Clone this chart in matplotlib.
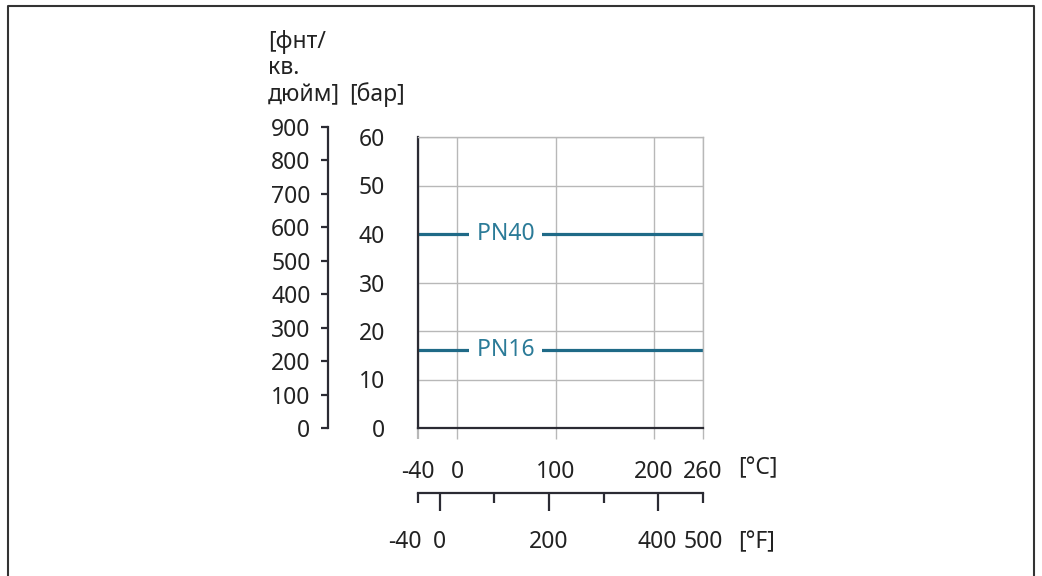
import matplotlib
matplotlib.use('Agg')
import matplotlib.pyplot as plt
import numpy as np
from matplotlib.lines import Line2D
from matplotlib.transforms import ScaledTranslation
from matplotlib.ticker import FixedLocator, FixedFormatter

# ---- data ----
temp_c = [-40, 260]
pn40_bar = [40, 40]
pn16_bar = [16, 16]
series_names = ['PN40', 'PN16']
c_ticks = [-40, 0, 100, 200, 260]
c_labels = ['-40', '0', '100', '200', '260']
bar_ticks = [0, 10, 20, 30, 40, 50, 60]
psi_ticks = [0, 100, 200, 300, 400, 500, 600, 700, 800, 900]
f_major = [0, 200, 400]
f_major_labels = ['0', '200', '400']
f_minor = [-40, 100, 300, 500]
f_minor_labels = ['-40', '', '', '500']
PSI_PER_BAR = 14.5038

# drawing quirk of the original: the 200..260 °C stretch is drawn compressed
C_BREAK = [-40, 200, 260]
C_DRAWN = [-40, 200, 249.8]
F_BREAK = [c * 1.8 + 32 for c in C_BREAK]
F_DRAWN = [c * 1.8 + 32 for c in C_DRAWN]

plt.rcParams['font.family'] = ['Noto Sans', 'DejaVu Sans']
FS = 16.5
W, H = 1042, 576
fig = plt.figure(figsize=(W / 100, H / 100), dpi=100)


def fr(l, t, r, b):
    return [l / W, 1 - b / H, (r - l) / W, (b - t) / H]


def mk_scale(src, dst):
    fwd = lambda v: np.interp(v, src, dst, left=None, right=None)
    inv = lambda v: np.interp(v, dst, src)
    return fwd, inv


DARK = '#2b2b33'
GRID = '#b8b8b8'
LINE_C = '#1f6a87'
TEXT_C = '#2b7b98'
PX = 0.72  # points per pixel

# main axes
L, T, R, B = 418, 137, 703, 428
ax = fig.add_axes(fr(L, T, R, B))
ax.set_xscale('function', functions=mk_scale(C_BREAK, C_DRAWN))
ax.set_xlim(-40, 260)
ax.set_ylim(0, 60)
ax.set_xticks(c_ticks)
ax.set_xticklabels(c_labels, fontsize=FS, color='#222')
ax.xaxis.set_minor_locator(FixedLocator([]))
ax.set_yticks(bar_ticks)
ax.set_yticklabels([str(v) for v in bar_ticks], fontsize=FS, color='#222')
ax.grid(True, color=GRID, lw=1.0)
ax.set_axisbelow(True)
for s in ['top', 'right']:
    ax.spines[s].set_color(GRID)
    ax.spines[s].set_linewidth(1.0)
for s in ['left', 'bottom']:
    ax.spines[s].set_color(DARK)
    ax.spines[s].set_linewidth(1.6)
ax.tick_params(axis='x', direction='out', length=8 * PX * 1.39, width=1.0, color=GRID, pad=15)
ax.tick_params(axis='y', length=0, pad=33 * PX)
ax.xaxis.get_major_ticks()[0].tick1line.set_color(DARK)
ax.xaxis.get_major_ticks()[0].tick1line.set_markeredgewidth(1.6)
ax.yaxis.set_minor_locator(FixedLocator([0]))
ax.tick_params(axis='y', which='minor', length=9 * PX, width=1.6, color=DARK)

ax.plot(temp_c, pn40_bar, color=LINE_C, lw=2.3, solid_capstyle='butt', zorder=2)
ax.plot(temp_c, pn16_bar, color=LINE_C, lw=2.3, solid_capstyle='butt', zorder=2)
label_x = 49
for name, vals in zip(series_names, [pn40_bar, pn16_bar]):
    ax.text(label_x, vals[0], ' ' + name + ' ', ha='center', va='center', fontsize=FS,
            color=TEXT_C, zorder=4,
            bbox=dict(fc='white', ec='none', boxstyle='square,pad=0.08'))

# psi axis
psi_top = B - (B - T) * (max(psi_ticks) / (bar_ticks[-1] * PSI_PER_BAR))
axp = fig.add_axes(fr(327.5, psi_top, 340, B))
axp.set_ylim(0, max(psi_ticks))
axp.set_yticks(psi_ticks)
axp.set_yticklabels([str(v) for v in psi_ticks], fontsize=FS, color='#222')
axp.set_xticks([])
axp.patch.set_visible(False)
for s in ['top', 'right', 'bottom']:
    axp.spines[s].set_visible(False)
axp.spines['left'].set_color(DARK)
axp.spines['left'].set_linewidth(1.6)
axp.tick_params(axis='y', direction='out', length=7 * PX, width=1.6, color=DARK, pad=10 * PX)

# Fahrenheit axis
axf = fig.add_axes(fr(L, 470, R, 493))
axf.set_xscale('function', functions=mk_scale(F_BREAK, F_DRAWN))
axf.set_xlim(-40, 500)
axf.set_yticks([])
axf.patch.set_visible(False)
for s in ['top', 'right', 'left']:
    axf.spines[s].set_visible(False)
axf.spines['bottom'].set_color(DARK)
axf.spines['bottom'].set_linewidth(1.6)
axf.xaxis.set_major_locator(FixedLocator(f_major))
axf.xaxis.set_major_formatter(FixedFormatter(f_major_labels))
axf.xaxis.set_minor_locator(FixedLocator(f_minor))
axf.xaxis.set_minor_formatter(FixedFormatter(f_minor_labels))
axf.tick_params(axis='x', which='major', direction='out', length=18 * PX, width=1.6,
                color=DARK, pad=19 * PX, labelsize=FS, labelcolor='#222')
axf.tick_params(axis='x', which='minor', direction='out', length=10 * PX, width=1.6,
                color=DARK, pad=27 * PX, labelsize=FS, labelcolor='#222')
lab = axf.xaxis.get_minor_ticks()[0].label1
lab.set_transform(lab.get_transform() + ScaledTranslation(-13 / 100, 0, fig.dpi_scale_trans))

# unit labels
def ftext(x, y, s, **kw):
    fig.text(x / W, 1 - y / H, s, fontsize=FS, color='#222', va='center', **kw)

ftext(268, 42, '[фнт/', ha='left')
ftext(268, 68, 'кв.', ha='left')
ftext(268, 95, 'дюйм]', ha='left')
ftext(349, 95, '[бар]', ha='left')
ftext(758, 468, '[°C]', ha='center')
ftext(757, 542, '[°F]', ha='center')

# frame
fig.add_artist(Line2D([8 / W, 8 / W, 1034 / W, 1034 / W], [0, 1 - 6 / H, 1 - 6 / H, 0],
                      transform=fig.transFigure, color='#333', lw=1.5))

fig.savefig('out.png', dpi=100)
